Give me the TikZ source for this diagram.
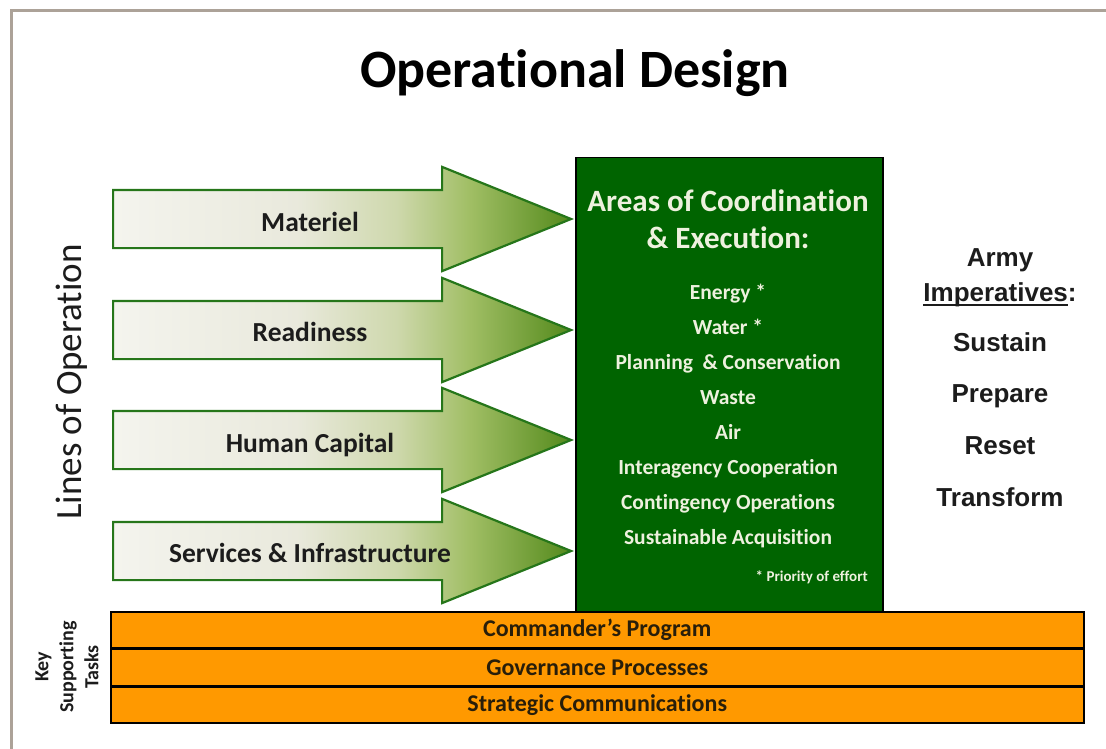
\documentclass[tikz,border=0pt]{standalone}
\usepackage{fontspec}
\setmainfont{Carlito}[Ligatures={TeX,NoCommon}]
\newfontfamily\arialfont{Liberation Sans}
\usepackage{xcolor}
\usetikzlibrary{positioning,shapes.arrows,calc}
\definecolor{framegrey}{RGB}{172,162,152}
\definecolor{arrowline}{RGB}{38,118,26}
\definecolor{arrowlight}{RGB}{244,244,238}
\definecolor{arrowpale}{RGB}{233,233,220}
\definecolor{arrowmid}{RGB}{206,216,172}
\definecolor{arrowolive}{RGB}{160,190,100}
\definecolor{arrowgreen}{RGB}{84,138,28}
\definecolor{areagreen}{RGB}{0,100,0}
\definecolor{areatext}{RGB}{238,241,222}
\definecolor{taskorange}{RGB}{255,153,0}
\definecolor{bartext}{RGB}{40,30,10}
\definecolor{textdark}{RGB}{28,28,28}
\pgfdeclarehorizontalshading{lineshade}{100bp}{color(0bp)=(arrowlight); color(25bp)=(arrowlight); color(45bp)=(arrowpale); color(56bp)=(arrowmid); color(64bp)=(arrowolive); color(75bp)=(arrowgreen); color(100bp)=(arrowgreen)}
\newcommand\ulinetext[1]{\setbox0\hbox{#1}\rlap{\rule[-4pt]{\wd0}{1.6pt}}\box0}
\tikzset{
  lineop/.style={single arrow, draw=arrowline, line width=2.2pt, shade, shading=lineshade,
    minimum height=458pt, minimum width=102pt, single arrow head extend=23pt,
    single arrow tip angle=44, inner xsep=0pt, inner ysep=28pt, anchor=tail},
  linelabel/.style={text=textdark, font=\bfseries\fontsize{27.5}{32}\selectfont, text height=18pt, text depth=0pt, inner sep=0pt},
  areaitem/.style={text=areatext, font=\bfseries\fontsize{21.5}{25}\selectfont, text height=14pt, text depth=0pt, inner sep=0pt},
  taskbar/.style={draw=black, line width=1.5pt, fill=taskorange, minimum width=973pt, minimum height=36pt,
    inner sep=0pt, text=bartext, font=\bfseries\fontsize{24}{28}\selectfont},
  armytext/.style={text=textdark, font=\arialfont\bfseries\fontsize{26}{30}\selectfont, text height=19pt, text depth=0pt, inner sep=0pt}
}

\begin{document}
\begin{tikzpicture}[x=1pt, y=-1pt]
\useasboundingbox (0,0) rectangle (1106,749);
% Frame
\draw[framegrey, line width=3pt] (11,749) -- (11,11) -- (1106,11);
% Title
\node[text=black, font=\bfseries\fontsize{54}{60}\selectfont, text height=35pt, text depth=0pt, inner sep=0pt] (title) at (575,70) {Operational Design};
% Lines of operation
\node[lineop] (materiel) at (112,219) {};
\node[lineop] (readiness) at (112,330) {};
\node[lineop] (human) at (112,440) {};
\node[lineop] (services) at (112,551) {};
\node[linelabel] at (310,222) {Materiel};
\node[linelabel] at (310,332) {Readiness};
\node[linelabel] at (310,443) {Human Capital};
\node[linelabel] at (310,553) {Services \& Infrastructure};
\node[rotate=90, text=textdark, font=\fontsize{37}{40}\selectfont, inner sep=0pt] (lines) at (72,382) {Lines of Operation};
% Areas of coordination
\node[draw=black, line width=1.5pt, fill=areagreen, minimum width=307pt, minimum height=460pt, inner sep=0pt, anchor=north west] (areas) at (575,157) {};
\node[text=areatext, font=\bfseries\fontsize{31}{37}\selectfont, align=center, inner sep=0pt] (areahead) at (728,219) {Areas of Coordination\\\& Execution:};
\foreach \item [count=\i] in {Energy *, Water *, Planning \ \& Conservation, Waste, Air, Interagency Cooperation, Contingency Operations, Sustainable Acquisition}
  \node[areaitem] (area\i) at (728,{292+35*(\i-1)}) {\item};
\node[text=areatext, font=\bfseries\fontsize{15}{17}\selectfont, anchor=east, inner sep=0pt] (priority) at (868,577) {* Priority of effort};
% Army imperatives
\node[armytext] (army) at (1000,257) {Army};
\node[armytext] (imperatives) at (1000,292) {\ulinetext{Imperatives}:};
\node[armytext] (sustain) at (1000,342) {Sustain};
\node[armytext] (prepare) at (1000,393) {Prepare};
\node[armytext] (reset) at (1000,445) {Reset};
\node[armytext] (transform) at (1000,497) {Transform};
% Key supporting tasks
\node[taskbar, anchor=north west] (program) at (110,611) {Commander's Program};
\node[taskbar, below=0pt of program] (governance) {Governance Processes};
\node[taskbar, below=0pt of governance] (communications) {Strategic Communications};
\node[rotate=90, align=center, text=textdark, font=\bfseries\fontsize{20}{25}\selectfont, inner sep=0pt] (keytasks) at (67,667) {Key\\Supporting\\Tasks};
\end{tikzpicture}
\end{document}
